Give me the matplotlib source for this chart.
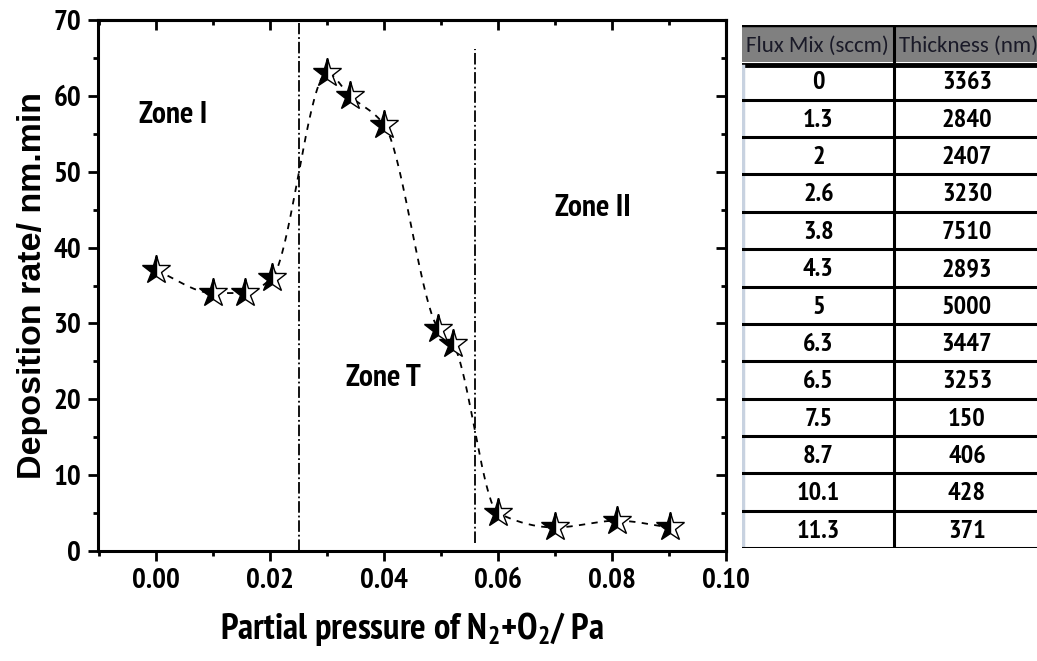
import numpy as np
import matplotlib
matplotlib.use("Agg")
import matplotlib.pyplot as plt
from matplotlib import font_manager
from matplotlib.ticker import MultipleLocator, FormatStrFormatter

# data
pressure = [0.000, 0.010, 0.0156, 0.0203, 0.030, 0.034, 0.040, 0.0495, 0.0521, 0.060, 0.070, 0.0809, 0.0902]
dep_rate = [37.0, 34.0, 34.0, 36.0, 63.0, 60.0, 56.2, 29.3, 27.3, 5.0, 3.1, 4.0, 3.1]
zone_bounds = [0.025, 0.056]
zone_names = ["Zone I", "Zone T", "Zone II"]
zone_pos = [(0.003, 57.5), (0.0398, 22.8), (0.0767, 45.2)]

flux_mix = ["0", "1.3", "2", "2.6", "3.8", "4.3", "5", "6.3", "6.5", "7.5", "8.7", "10.1", "11.3"]
thickness = ["3363", "2840", "2407", "3230", "7510", "2893", "5000", "3447", "3253", "150", "406", "428", "371"]
table_head = ["Flux Mix (sccm)", "Thickness (nm)"]

# pick a narrow family that actually has a bold face
bold_names = {f.name for f in font_manager.fontManager.ttflist
              if (f.weight if isinstance(f.weight, int) else 700 if "bold" in str(f.weight) else 400) >= 700}
narrow = next((n for n in ["PT Sans Narrow", "Archivo Narrow", "Roboto Condensed", "Fira Sans Condensed",
                           "IBM Plex Sans Condensed", "Barlow Condensed"] if n in bold_names), "DejaVu Sans")
plt.rcParams["font.family"] = [narrow, "DejaVu Sans"]
plt.rcParams["mathtext.default"] = "regular"


def pchip(x, y, n=40):
    # monotone cubic connector through the points (no overshoot)
    x = np.asarray(x, float)
    y = np.asarray(y, float)
    h = np.diff(x)
    d = np.diff(y) / h
    m = np.zeros_like(y)
    for k in range(1, len(x) - 1):
        if d[k - 1] * d[k] > 0:
            w1 = 2 * h[k] + h[k - 1]
            w2 = h[k] + 2 * h[k - 1]
            m[k] = (w1 + w2) / (w1 / d[k - 1] + w2 / d[k])
    m[0], m[-1] = d[0], d[-1]
    xs, ys = [], []
    t = np.linspace(0, 1, n)
    for k in range(len(x) - 1):
        h00 = 2 * t ** 3 - 3 * t ** 2 + 1
        h10 = t ** 3 - 2 * t ** 2 + t
        h01 = -2 * t ** 3 + 3 * t ** 2
        h11 = t ** 3 - t ** 2
        xs.append(x[k] + t * h[k])
        ys.append(h00 * y[k] + h10 * h[k] * m[k] + h01 * y[k + 1] + h11 * h[k] * m[k + 1])
    return np.concatenate(xs), np.concatenate(ys)


fig = plt.figure(figsize=(10.37, 6.61), dpi=100)
ax = fig.add_axes([98 / 1037, 110 / 661, 628 / 1037, 531 / 661])

sx, sy = pchip(pressure, dep_rate)
ax.plot(sx, sy, ls=(0, (3.5, 3.5)), color="black", lw=1.3, zorder=2)
ax.plot(pressure, dep_rate, ls="none", marker="*", ms=21, fillstyle="left",
        markerfacecolor="black", markerfacecoloralt="white", markeredgecolor="black",
        markeredgewidth=1.0, zorder=3)

ax.axvline(zone_bounds[0], ymin=0, ymax=0.995, color="black", ls="-.", lw=1.3)
ax.axvline(zone_bounds[1], ymin=0.016, ymax=0.945, color="black", ls="-.", lw=1.3)

for name, (zx, zy) in zip(zone_names, zone_pos):
    ax.text(zx, zy, name, fontsize=22.5, fontweight="bold", ha="center", va="center")

ax.set_xlim(-0.0102, 0.10)
ax.set_ylim(0, 70)
ax.xaxis.set_major_locator(MultipleLocator(0.02))
ax.xaxis.set_minor_locator(MultipleLocator(0.01))
ax.yaxis.set_major_locator(MultipleLocator(10))
ax.yaxis.set_minor_locator(MultipleLocator(5))
ax.xaxis.set_major_formatter(FormatStrFormatter("%.2f"))
for s in ax.spines.values():
    s.set_linewidth(2.2)
ax.tick_params(which="both", direction="out", width=2, top=False, right=False)
ax.tick_params(which="major", length=7, labelsize=21, pad=5)
ax.tick_params(which="minor", length=3.5)
for lab in ax.get_xticklabels() + ax.get_yticklabels():
    lab.set_fontweight("bold")

# inward ticks on top and right
axt = ax.secondary_xaxis("top")
axt.xaxis.set_major_locator(MultipleLocator(0.02))
axt.xaxis.set_minor_locator(MultipleLocator(0.01))
axt.tick_params(which="both", direction="in", width=2, labeltop=False)
axt.tick_params(which="major", length=7)
axt.tick_params(which="minor", length=3.5)
axr = ax.secondary_yaxis("right")
axr.yaxis.set_major_locator(MultipleLocator(10))
axr.yaxis.set_minor_locator(MultipleLocator(5))
axr.tick_params(which="both", direction="in", width=2, labelright=False)
axr.tick_params(which="major", length=7)
axr.tick_params(which="minor", length=3.5)
for a in (axt, axr):
    for s in a.spines.values():
        s.set_linewidth(2.2)

ax.set_xlabel("Partial pressure of N$_{2}$+O$_{2}$/ Pa", fontsize=26.5, fontweight="bold", labelpad=12)
ax.set_ylabel("Deposition rate/ nm.min", fontsize=24.5, fontweight="bold",
              family=["Liberation Sans", "DejaVu Sans"], labelpad=4)

# table on the right
tb = fig.add_axes([742 / 1037, 113 / 661, 296 / 1037, 523 / 661])
nrows = len(flux_mix) + 1
tb.set_xlim(0, 1)
tb.set_ylim(nrows, 0)
tb.axis("off")
tb.add_patch(plt.Rectangle((0, 0), 1, 1, color="#808080", lw=0))
tb.plot([0, 1], [0, 0], color="black", lw=2.5)
tb.plot([0, 1], [1.07, 1.07], color="black", lw=3.5)
tb.plot([0.515, 0.515], [0, nrows], color="black", lw=2.2)
tb.plot([0.004, 0.004], [1.1, nrows], color="#c8d2e0", lw=2.5)
for i in range(2, nrows + 1):
    tb.plot([0, 1], [i, i], color="black", lw=2.2)
head_font = ["Carlito", "Open Sans", "DejaVu Sans"]
tb.text(0.015, 0.55, table_head[0], fontsize=16.5, family=head_font,
        color="#1a1a28", ha="left", va="center")
tb.text(0.532, 0.55, table_head[1], fontsize=16.5, family=head_font,
        color="#1a1a28", ha="left", va="center")
for i, (f, t) in enumerate(zip(flux_mix, thickness)):
    tb.text(0.258, i + 1.55, f, fontsize=19, fontweight="bold", ha="center", va="center")
    tb.text(0.76, i + 1.55, t, fontsize=19, fontweight="bold", ha="center", va="center")

fig.savefig("out.png", dpi=100)
